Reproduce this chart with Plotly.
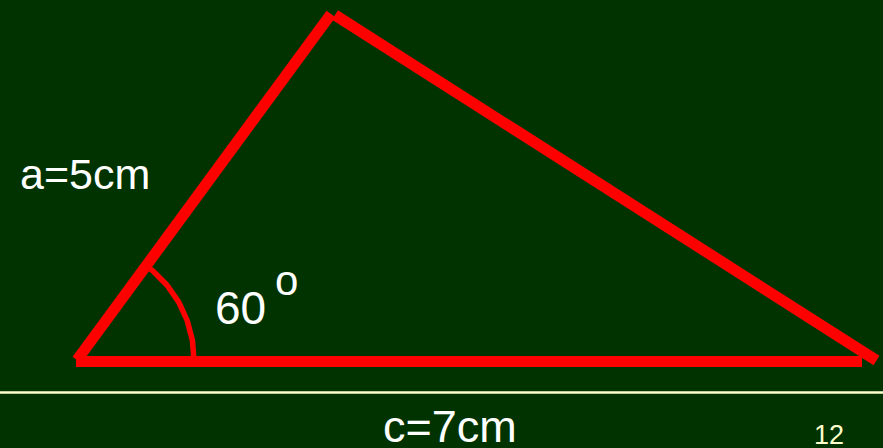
import numpy as np
import plotly.graph_objects as go

# ---- data (pixel-space diagram coordinates, y grows downward) ----
side_names = ["a", "b", "c"]
side_x0 = [77, 335, 76]
side_y0 = [360, 15, 361.5]
side_x1 = [331, 876.5, 862]
side_y1 = [14, 360.5, 361.5]

# angle marker at vertex B
arc_center_x = 77
arc_center_y = 360
arc_radius = 117
arc_start_deg = 0
arc_end_deg = 53.7

# separator line
sep_y = 392.5

labels = ["a=5cm", "60", "o", "c=7cm", "12"]
label_x = [18, 213, 273, 450, 828.5]
label_y = [174, 308, 280.5, 426, 435.4]

W, H = 883, 448
BG = "#003300"
RED = "#FF0000"
CREAM = "#FFFFCC"

fig = go.Figure()

for i, name in enumerate(side_names):
    fig.add_trace(go.Scatter(
        x=[side_x0[i], side_x1[i]], y=[side_y0[i], side_y1[i]],
        mode="lines", line=dict(color=RED, width=11),
        hoverinfo="skip", name=name))

t = np.radians(np.linspace(arc_start_deg, arc_end_deg, 60))
fig.add_trace(go.Scatter(
    x=arc_center_x + arc_radius * np.cos(t),
    y=arc_center_y - arc_radius * np.sin(t),
    mode="lines", line=dict(color=RED, width=5.5), hoverinfo="skip"))

fig.add_trace(go.Scatter(
    x=[0, W], y=[sep_y, sep_y], mode="lines",
    line=dict(color=CREAM, width=2.5), hoverinfo="skip"))

styles = [
    dict(size=43, color="white", anchor="left"),
    dict(size=46, color="white", anchor="left"),
    dict(size=42, color="white", anchor="left"),
    dict(size=45, color="white", anchor="center"),
    dict(size=27, color=CREAM, anchor="center"),
]
for txt, lx, ly, st in zip(labels, label_x, label_y, styles):
    fig.add_annotation(
        x=lx, y=ly, xref="x", yref="y", text=txt, showarrow=False,
        xanchor=st["anchor"], yanchor="middle",
        font=dict(family="Liberation Sans, Arial, sans-serif",
                  size=st["size"], color=st["color"]))

fig.update_layout(
    width=W, height=H, margin=dict(l=0, r=0, t=0, b=0),
    paper_bgcolor=BG, plot_bgcolor=BG, showlegend=False,
    xaxis=dict(range=[0, W], visible=False, fixedrange=True),
    yaxis=dict(range=[H, 0], visible=False, fixedrange=True),
)

fig.write_html(
    "out.html",
    config={"displayModeBar": False},
    post_script="document.body.style.margin='0';"
                "document.body.style.overflow='hidden';"
                "document.body.style.background='#003300';",
)
